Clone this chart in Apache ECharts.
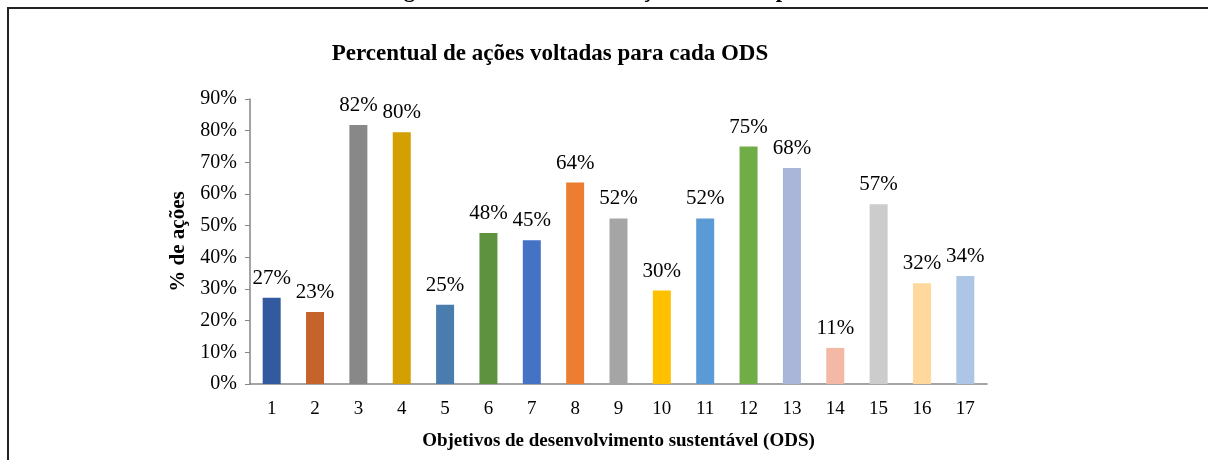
<!DOCTYPE html>
<html><head><meta charset="utf-8">
<script src="https://cdn.jsdelivr.net/npm/echarts@6/dist/echarts.min.js"></script>
<style>html,body{margin:0;padding:0;background:#fff;}#c{width:1208px;height:460px;}</style>
</head><body><div id="c"></div>
<script>
const categories = ['1','2','3','4','5','6','7','8','9','10','11','12','13','14','15','16','17'];
const values = [27.2, 22.7, 81.8, 79.5, 25.0, 47.7, 45.4, 63.6, 52.3, 29.5, 52.3, 75.0, 68.2, 11.4, 56.8, 31.8, 34.1];
const colors = ['#335A9E','#C5632A','#888888','#D49F00','#4A7DAD','#5E923E','#4472C4','#ED7D31','#A5A5A5','#FFC000','#5B9BD5','#70AD47','#A9B5D9','#F4B9A4','#CCCCCC','#FED89D','#AEC6E5'];
const serif = '"Liberation Serif", "DejaVu Serif", serif';

const chart = echarts.init(document.getElementById('c'), null, {renderer:'canvas'});
chart.setOption({
  animation: false,
  backgroundColor: '#fff',
  title: {
    text: 'Percentual de ações voltadas para cada ODS',
    left: 545, top: 38, textAlign: 'center',
    textStyle: {fontFamily: serif, fontWeight: 'bold', fontSize: 23, color: '#000'}
  },
  graphic: [
    {type:'text', style:{text:'Figura 8 – Percentual de ações voltadas para cada ODS', x:0, y:0, font:'bold 23px "Liberation Serif", serif', fill:'#000', textAlign:'center', textVerticalAlign:'bottom'}, position:[655, 3]},
    {type:'line', shape:{x1:7, y1:8, x2:1208, y2:8}, style:{stroke:'#222', lineWidth:2}},
    {type:'line', shape:{x1:8, y1:8, x2:8, y2:460}, style:{stroke:'#222', lineWidth:2}}
  ],
  grid: {left: 250, right: 221, top: 99, bottom: 76, containLabel: false},
  xAxis: {
    type: 'category', data: categories,
    axisLine: {lineStyle: {color: '#868686', width: 1.5}},
    axisTick: {show: false},
    axisLabel: {fontFamily: serif, fontSize: 19, color: '#000', margin: 16},
    name: 'Objetivos de desenvolvimento sustentável (ODS)',
    nameLocation: 'middle', nameGap: 48,
    nameTextStyle: {fontFamily: serif, fontWeight: 'bold', fontSize: 19, color: '#000'}
  },
  yAxis: {
    type: 'value', min: 0, max: 90, interval: 10,
    axisLine: {show: true, lineStyle: {color: '#868686', width: 1.5}},
    axisTick: {show: true, length: 5, lineStyle: {color: '#868686'}},
    splitLine: {show: false},
    axisLabel: {fontFamily: serif, fontSize: 20, color: '#000', margin: 13, formatter: v => v + '%'},
    name: '% de ações', nameLocation: 'middle', nameGap: 57, nameRotate: 90,
    nameTextStyle: {fontFamily: serif, fontWeight: 'bold', fontSize: 21, color: '#000'}
  },
  series: [{
    type: 'bar', data: values.map((v,i)=>({value:v, itemStyle:{color:colors[i]}})),
    barWidth: 18,
    label: {show: true, position: 'top', distance: 9, fontFamily: serif, fontSize: 21, color: '#000',
      formatter: p => Math.round(p.value) + '%'}
  }]
});
</script></body></html>
